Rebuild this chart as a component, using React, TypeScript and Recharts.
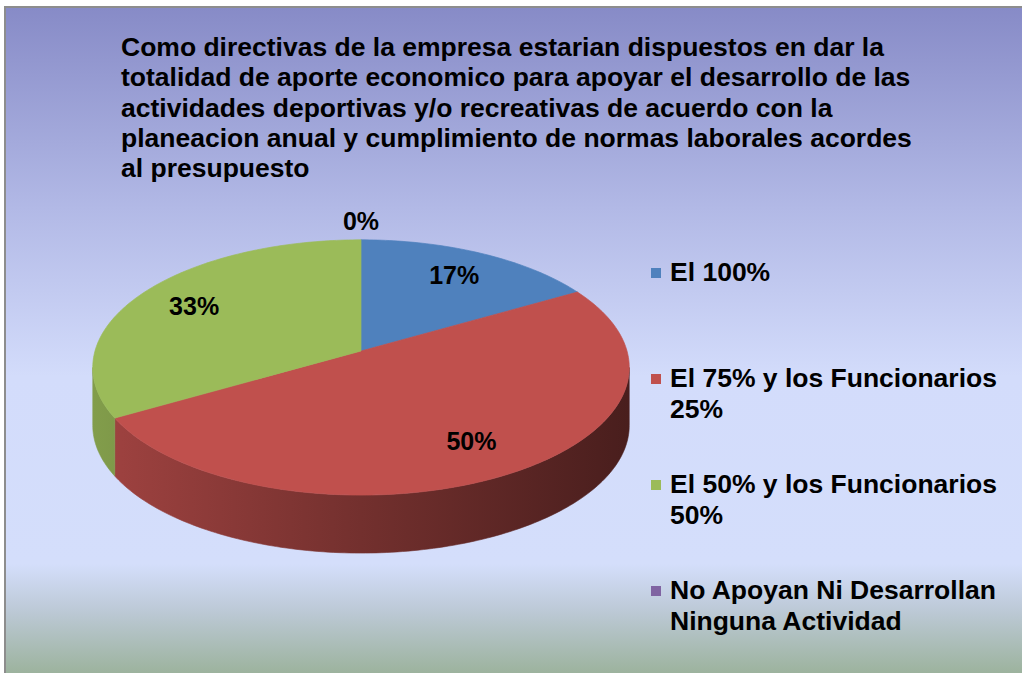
import React from "react";
import { PieChart, Pie, Cell, Legend } from "recharts";

const categories = [
  "El 100%",
  "El 75% y los Funcionarios 25%",
  "El 50% y los Funcionarios 50%",
  "No Apoyan Ni Desarrollan Ninguna Actividad",
];
const responses = [1, 3, 2, 0];
const sliceColors = ["#4f81bd", "#c0504d", "#9bbb59", "#8064a2"];
const titleLines = [
  "Como directivas de la empresa estarian dispuestos en dar la",
  "totalidad de aporte economico para apoyar el desarrollo de las",
  "actividades deportivas y/o recreativas de acuerdo con la",
  "planeacion anual y cumplimiento de normas laborales acordes",
  "al presupuesto",
];

const data = categories.map((name, i) => ({ name, value: responses[i] }));

const FONT = '"Liberation Sans", Arial, sans-serif';
const TILT = 0.4718; // vertical squash of the pie top
const PERSP = 0.129; // far side looks smaller
const DEPTH = 58; // thickness of the 3d pie

// theta: degrees clockwise from 12 o'clock, f: fraction of the radius
function project(cx: number, cy: number, r: number, theta: number, f = 1) {
  const rad = (theta * Math.PI) / 180;
  const u = f * Math.sin(rad);
  const v = f * Math.cos(rad);
  const w = 1 + PERSP * v;
  return [cx + (r * u) / w, cy - (r * TILT * v) / w];
}

function arcPoints(cx: number, cy: number, r: number, t1: number, t2: number, dy = 0) {
  const pts: number[][] = [];
  const steps = Math.max(2, Math.ceil(Math.abs(t2 - t1)));
  for (let i = 0; i <= steps; i++) {
    const t = t1 + ((t2 - t1) * i) / steps;
    const [x, y] = project(cx, cy, r, t);
    pts.push([x, y + dy]);
  }
  return pts;
}

function shade(hex: string, k: number) {
  const n = parseInt(hex.slice(1), 16);
  const c = [(n >> 16) & 255, (n >> 8) & 255, n & 255].map((v) => Math.round(v * k));
  return `rgb(${c[0]},${c[1]},${c[2]})`;
}

function Slice3D(props: any) {
  const { cx, cy, outerRadius, startAngle, endAngle, fill } = props;
  const t1 = 90 - startAngle;
  const t2 = 90 - endAngle;
  if (!(t2 - t1 > 0.01)) return <g />;

  const edge = (Math.acos(-PERSP) * 180) / Math.PI;
  const s1 = Math.max(t1, edge);
  const s2 = Math.min(t2, 360 - edge);
  const half = outerRadius / Math.sqrt(1 - PERSP * PERSP);
  const gid = `side-${fill.replace("#", "")}`;

  let side = null;
  if (s2 > s1) {
    const top = arcPoints(cx, cy, outerRadius, s1, s2);
    const bottom = arcPoints(cx, cy, outerRadius, s2, s1, DEPTH);
    const d =
      "M" + top.map((p) => p.join(",")).join("L") + "L" + bottom.map((p) => p.join(",")).join("L") + "Z";
    side = <path d={d} fill={`url(#${gid})`} stroke={`url(#${gid})`} strokeWidth={0.6} />;
  }

  const face = arcPoints(cx, cy, outerRadius, t1, t2);
  const faceD = `M${cx},${cy}L` + face.map((p) => p.join(",")).join("L") + "Z";

  return (
    <g>
      <defs>
        <linearGradient id={gid} gradientUnits="userSpaceOnUse" x1={cx - half} y1={0} x2={cx + half} y2={0}>
          <stop offset="0" stopColor={shade(fill, 0.84)} />
          <stop offset="0.5" stopColor={shade(fill, 0.6)} />
          <stop offset="1" stopColor={shade(fill, 0.38)} />
        </linearGradient>
      </defs>
      {side}
      <path d={faceD} fill={fill} stroke={fill} strokeWidth={0.7} strokeLinejoin="round" />
    </g>
  );
}

function renderLabel(props: any) {
  const { cx, cy, midAngle, outerRadius, percent } = props;
  const theta = 90 - midAngle;
  const f = percent > 0 ? 0.76 : 1.2;
  const [x, y] = project(cx, cy, outerRadius, theta, f);
  return (
    <text
      x={x}
      y={y}
      textAnchor="middle"
      dominantBaseline="central"
      fontFamily={FONT}
      fontWeight="bold"
      fontSize={25}
      fill="#000"
    >
      {`${Math.round(percent * 100)}%`}
    </text>
  );
}

function LegendList(props: any) {
  const items = [...(props.payload || [])].sort(
    (a: any, b: any) => categories.indexOf(a.value) - categories.indexOf(b.value)
  );
  return (
    <div style={{ fontFamily: FONT, fontWeight: "bold", fontSize: 26.5, lineHeight: "31px", color: "#000" }}>
      {items.map((item: any, i: number) => (
        <div key={i} style={{ height: 106, display: "flex", alignItems: "flex-start" }}>
          <span
            style={{
              width: 10,
              height: 10,
              marginTop: 11,
              marginRight: 9,
              flex: "0 0 auto",
              background: item.color || sliceColors[i],
            }}
          />
          <span style={{ width: 345 }}>{item.value}</span>
        </div>
      ))}
    </div>
  );
}

export default function App() {
  return (
    <div style={{ position: "absolute", left: 0, top: 0, width: 1022, height: 673, overflow: "hidden" }}>
      <div
        style={{
          position: "absolute",
          left: 4,
          top: 6,
          width: 1020,
          height: 670,
          borderLeft: "2px solid #8d8d8d",
          borderTop: "2px solid #8d8d8d",
          background:
            "linear-gradient(to bottom, #878bc7 0%, #b2b9e6 30%, #d3dcfb 55%, #d4defb 83%, #bcc9d6 90%, #9ab199 100%)",
        }}
      />
      <div
        style={{
          position: "absolute",
          left: 121,
          top: 32,
          fontFamily: FONT,
          fontWeight: "bold",
          fontSize: 26.5,
          lineHeight: "30.3px",
          color: "#000",
          whiteSpace: "nowrap",
        }}
      >
        {titleLines.map((line, i) => (
          <div key={i}>{line}</div>
        ))}
      </div>
      <div style={{ position: "absolute", left: 0, top: 0 }}>
        <PieChart width={1022} height={673}>
          <Pie
            data={data}
            dataKey="value"
            nameKey="name"
            cx={356}
            cy={346}
            outerRadius={266}
            startAngle={90}
            endAngle={-270}
            stroke="none"
            label={renderLabel}
            labelLine={false}
            shape={Slice3D}
            activeShape={Slice3D}
            inactiveShape={Slice3D}
            isAnimationActive={false}
          >
            {data.map((d, i) => (
              <Cell key={d.name} fill={sliceColors[i]} />
            ))}
          </Pie>
          <Legend
            layout="vertical"
            content={LegendList}
            wrapperStyle={{ position: "absolute", left: 651, top: 257, width: 370 }}
          />
        </PieChart>
      </div>
    </div>
  );
}
